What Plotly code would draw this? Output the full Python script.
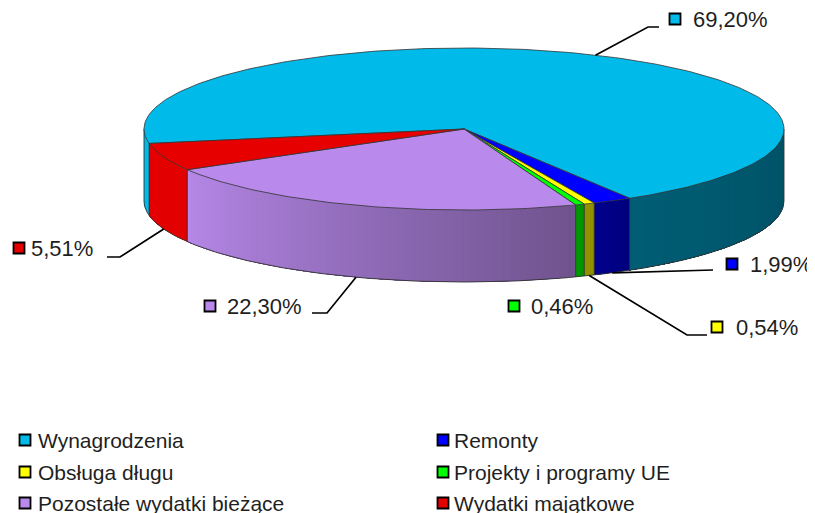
import math
import numpy as np
import plotly.graph_objects as go

# ---------------- data ----------------
categories = ["Wynagrodzenia", "Remonty", "Obsługa długu",
              "Projekty i programy UE", "Pozostałe wydatki bieżące", "Wydatki majątkowe"]
values = [69.20, 1.99, 0.54, 0.46, 22.30, 5.51]
value_labels = ["69,20%", "1,99%", "0,54%", "0,46%", "22,30%", "5,51%"]

# ---------------- style ----------------
colors = ["#00BBEA", "#0000FF", "#FFFF00", "#00FF00", "#B98AEC", "#E60000"]
W, H = 815, 513
PAGE_OFF = 8               # default body margin of the html page
CX, CY = 464, 129          # centre of top ellipse (px)
RX, RY = 320, 81           # radii of top ellipse
DEPTH = 72                 # thickness of the pie
START = 169.7              # start angle of first slice (screen degrees, clockwise)
EDGE = "#333333"
TXT = "#1f1f1f"
FONT = "Liberation Sans, Arial, sans-serif"

# label layout: elbow points of leader lines, square and text position
label_layout = [
    dict(path=[(648, 27), (659, 27)], sq=(675, 19), tx=691),
    dict(path=[(713, 270)], sq=(732, 264), tx=748),
    dict(path=[(687, 335), (707, 335)], sq=(717, 327), tx=734),
    dict(path=None, sq=(514, 306), tx=529),
    dict(path=[(327, 313), (312, 313)], sq=(210, 306), tx=225),
    dict(path=[(120, 257), (107, 257)], sq=(19, 248), tx=29),
]
legend_cols = [(25, 36), (443, 452)]
legend_rows = [440, 472, 503]


def hex2rgb(h):
    h = h.lstrip("#")
    return tuple(int(h[i:i + 2], 16) for i in (0, 2, 4))


def shade(hexc, f):
    r, g, b = hex2rgb(hexc)
    return "rgb(%d,%d,%d)" % (round(r * f), round(g * f), round(b * f))


def shade_factor(theta):
    return float(np.interp(theta, [0, 60, 70, 150, 180], [0.43, 0.5, 0.6, 0.98, 1.0]))


def pt(theta, dy=0.0):
    t = math.radians(theta)
    return CX + RX * math.cos(t), CY + RY * math.sin(t) + dy


total = sum(values)
spans = [v / total * 360.0 for v in values]
starts = []
a = START
for s in spans:
    starts.append(a)
    a += s

fig = go.Figure()

# ---------------- side walls ----------------
for i, (a0, sp) in enumerate(zip(starts, spans)):
    a1 = a0 + sp
    segs = []
    for off in (0, 360, 720):
        lo, hi = max(a0, off), min(a1, off + 180)
        if hi > lo:
            segs.append((lo - off, hi - off))
    for lo, hi in segs:
        n = max(1, int(math.ceil((hi - lo) / 1.5)))
        edges = np.linspace(lo, hi, n + 1)
        for k in range(n):
            s0 = edges[k]
            th = np.linspace(s0, hi, max(3, int(math.ceil(hi - s0)) + 2))
            xs = [pt(t)[0] for t in th] + [pt(t, DEPTH)[0] for t in th[::-1]]
            ys = [pt(t)[1] for t in th] + [pt(t, DEPTH)[1] for t in th[::-1]]
            col = shade(colors[i], shade_factor((edges[k] + edges[k + 1]) / 2))
            fig.add_trace(go.Scatter(x=xs + [xs[0]], y=ys + [ys[0]], mode="lines",
                                     fill="toself", fillcolor=col,
                                     line=dict(color=col, width=0),
                                     hoverinfo="skip", showlegend=False))

# side outlines
ox, oy = [], []
th = np.linspace(0, 180, 181)
for t in th:
    x, y = pt(t, DEPTH)
    ox.append(x); oy.append(y)
ox.append(None); oy.append(None)
bounds = [0, 180]
for a0 in starts:
    b = a0 % 360
    if 0 < b < 180:
        bounds.append(b)
for b in bounds:
    x0, y0 = pt(b)
    x1, y1 = pt(b, DEPTH)
    ox += [x0, x1, None]; oy += [y0, y1, None]
fig.add_trace(go.Scatter(x=ox, y=oy, mode="lines", line=dict(color=EDGE, width=0.9),
                         hoverinfo="skip", showlegend=False))

# ---------------- top surface ----------------
for i, (a0, sp) in enumerate(zip(starts, spans)):
    n = max(2, int(math.ceil(sp)))
    th = np.linspace(a0, a0 + sp, n + 1)
    xs = [CX] + [pt(t)[0] for t in th] + [CX]
    ys = [CY] + [pt(t)[1] for t in th] + [CY]
    fig.add_trace(go.Scatter(x=xs, y=ys, mode="lines", fill="toself", fillcolor=colors[i],
                             line=dict(color=EDGE, width=0.8),
                             hoverinfo="skip", showlegend=False))

# ---------------- data labels ----------------
annotations = []
for i, lay in enumerate(label_layout):
    mid = (starts[i] + spans[i] / 2) % 360
    if lay["path"]:
        if 0 < mid < 180:
            sx, sy = pt(mid, DEPTH)
        else:
            sx, sy = pt(mid)
        xs = [sx] + [p[0] for p in lay["path"]]
        ys = [sy] + [p[1] for p in lay["path"]]
        fig.add_trace(go.Scatter(x=xs, y=ys, mode="lines", line=dict(color="black", width=1.7),
                                 hoverinfo="skip", showlegend=False))
    fig.add_trace(go.Scatter(x=[lay["sq"][0]], y=[lay["sq"][1]], mode="markers",
                             marker=dict(symbol="square", size=11, color=colors[i],
                                         line=dict(color="black", width=1.8)),
                             hoverinfo="skip", showlegend=False))
    annotations.append(dict(x=lay["tx"], y=lay["sq"][1], text=value_labels[i], showarrow=False,
                            xanchor="left", yanchor="middle", xref="x", yref="y",
                            font=dict(family=FONT, size=22, color=TXT)))

# ---------------- legend ----------------
for i, name in enumerate(categories):
    col = legend_cols[i % 2]
    row = legend_rows[i // 2]
    fig.add_trace(go.Scatter(x=[col[0]], y=[row], mode="markers",
                             marker=dict(symbol="square", size=11, color=colors[i],
                                         line=dict(color="black", width=1.8)),
                             hoverinfo="skip", showlegend=False))
    annotations.append(dict(x=col[1], y=row, text=name, showarrow=False,
                            xanchor="left", yanchor="middle", xref="x", yref="y",
                            font=dict(family=FONT, size=21, color=TXT)))

# figure placed after the page's body margin: axis units equal page pixels
fig.update_layout(
    width=W - PAGE_OFF, height=H - PAGE_OFF, margin=dict(l=0, r=0, t=0, b=0),
    paper_bgcolor="white", plot_bgcolor="white",
    xaxis=dict(range=[PAGE_OFF, W], visible=False, fixedrange=True),
    yaxis=dict(range=[H, PAGE_OFF], visible=False, fixedrange=True),
    annotations=annotations, showlegend=False, hovermode=False,
)

fig.write_html("out.html")
